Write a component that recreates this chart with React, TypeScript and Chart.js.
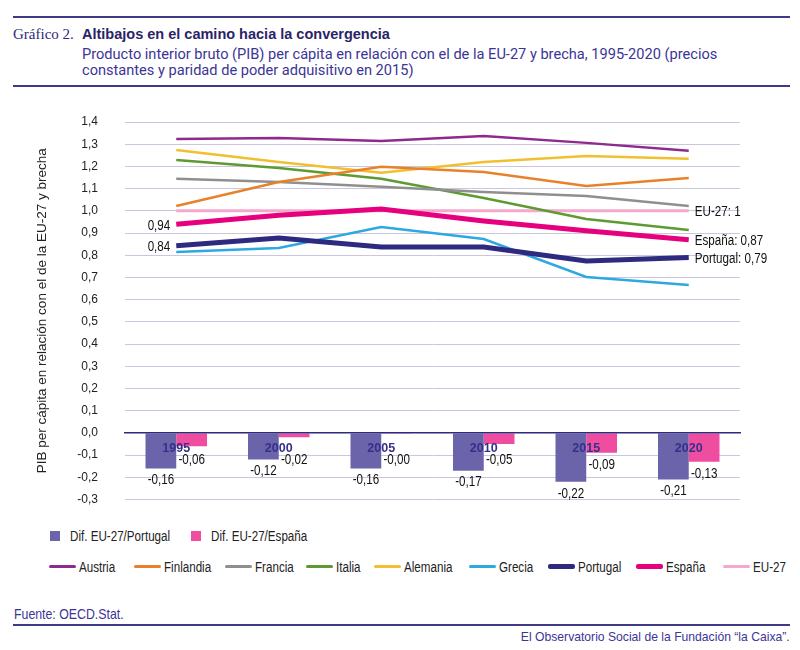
import React, { useEffect, useRef } from "react";
import { Chart, registerables } from "chart.js";

Chart.register(...registerables);

// ---------- data ----------
const years = ["1995", "2000", "2005", "2010", "2015", "2020"];
const difPortugal = [-0.16, -0.12, -0.16, -0.17, -0.22, -0.21];
const difEspana = [-0.06, -0.02, -0.002, -0.05, -0.09, -0.13];
const austria = [1.324, 1.328, 1.315, 1.337, 1.306, 1.27];
const finlandia = [1.022, 1.13, 1.198, 1.175, 1.112, 1.148];
const francia = [1.144, 1.13, 1.108, 1.085, 1.067, 1.022];
const italia = [1.229, 1.193, 1.144, 1.058, 0.963, 0.914];
const alemania = [1.274, 1.22, 1.171, 1.22, 1.247, 1.234];
const grecia = [0.815, 0.833, 0.927, 0.873, 0.702, 0.666];
const portugal = [0.843, 0.878, 0.837, 0.837, 0.774, 0.79];
const espana = [0.94, 0.98, 1.008, 0.954, 0.91, 0.87];
const eu27 = [1, 1, 1, 1, 1, 1];
const yMin = -0.3;
const yMax = 1.4;
const yStep = 0.1;

const SANS = "'Liberation Sans', Arial, sans-serif";
const NAVY = "#2e2a80";
const TEXT_BLUE = "#3b3596";
const RULE = "#3e3a86";
const NARROW_SCALE = 0.83;

const lineSeries = [
  { label: "Austria", data: austria, color: "#8e2a8e", width: 2.5 },
  { label: "Finlandia", data: finlandia, color: "#e8822a", width: 2.5 },
  { label: "Francia", data: francia, color: "#8f8f8f", width: 2.5 },
  { label: "Italia", data: italia, color: "#5e9a32", width: 2.5 },
  { label: "Alemania", data: alemania, color: "#f0c030", width: 2.5 },
  { label: "Grecia", data: grecia, color: "#2ea8e0", width: 2.5 },
  { label: "Portugal", data: portugal, color: NAVY, width: 5 },
  { label: "España", data: espana, color: "#e6007e", width: 5 },
  { label: "EU-27", data: eu27, color: "#f4a8cc", width: 3 },
];
const barSeries = [
  { label: "Dif. EU-27/Portugal", data: difPortugal, color: "#6c64aa" },
  { label: "Dif. EU-27/España", data: difEspana, color: "#ef4ea0" },
];

// legend placement (style only)
const barLegendX = [50, 191];
const lineLegendX = [49, 134, 225, 306, 374, 469, 548, 636, 723];

const fmt = (v: number, d: number) => {
  if (Math.abs(v) < 1e-9 && d === 1) return "0,0";
  return v.toFixed(d).replace(".", ",");
};
const fmtEnd = (v: number) => (Number.isInteger(v) ? String(v) : fmt(v, 2));

function narrowText(ctx: CanvasRenderingContext2D, text: string, x: number, y: number, align: "left" | "right" | "center") {
  ctx.save();
  ctx.translate(x, y);
  ctx.scale(NARROW_SCALE, 1);
  ctx.textAlign = align;
  ctx.fillText(text, 0, 0);
  ctx.restore();
}

const labelPlugin = {
  id: "labels",
  afterDatasetsDraw(chart: any) {
    const ctx = chart.ctx;
    const ys = chart.scales.y;
    const zero = ys.getPixelForValue(0);
    ctx.save();
    ctx.fillStyle = "#111";
    ctx.font = `14px ${SANS}`;
    ctx.textBaseline = "middle";
    // bar labels
    barSeries.forEach((s, di) => {
      const meta = chart.getDatasetMeta(di);
      meta.data.forEach((el: any, i: number) => {
        const v = s.data[i];
        const end = ys.getPixelForValue(v);
        const ly = Math.max(end + 12, zero + 27);
        narrowText(ctx, fmt(v, 2), el.x, ly, "center");
      });
    });
    // line labels
    const idx = (name: string) => barSeries.length + lineSeries.findIndex((l) => l.label === name);
    ["España", "Portugal"].forEach((name) => {
      const meta = chart.getDatasetMeta(idx(name));
      const el = meta.data[0];
      const s = lineSeries.find((l) => l.label === name)!;
      narrowText(ctx, fmt(s.data[0], 2), el.x - 6, el.y + 1.5, "right");
    });
    ["EU-27", "España", "Portugal"].forEach((name) => {
      const meta = chart.getDatasetMeta(idx(name));
      const el = meta.data[meta.data.length - 1];
      const s = lineSeries.find((l) => l.label === name)!;
      narrowText(ctx, `${name}: ${fmtEnd(s.data[s.data.length - 1])}`, el.x + 6, el.y + 1.5, "left");
    });
    ctx.restore();
  },
};

function ChartBox() {
  const ref = useRef<HTMLCanvasElement | null>(null);
  useEffect(() => {
    if (!ref.current) return;
    const datasets: any[] = [
      ...barSeries.map((s) => ({
        type: "bar",
        label: s.label,
        data: s.data,
        backgroundColor: s.color,
        categoryPercentage: 0.6,
        barPercentage: 1.0,
        order: 20,
      })),
      ...lineSeries.map((s, i) => ({
        type: "line",
        label: s.label,
        data: s.data,
        borderColor: s.color,
        backgroundColor: s.color,
        borderWidth: s.width,
        pointRadius: 0,
        tension: 0,
        fill: false,
        order: s.width > 4 ? 1 : 5 + i,
      })),
    ];
    const chart = new Chart(ref.current, {
      type: "bar",
      data: { labels: years, datasets },
      plugins: [labelPlugin],
      options: {
        animation: false,
        responsive: true,
        maintainAspectRatio: false,
        layout: { padding: { top: 22, bottom: 20.5, left: 0, right: 60 } },
        plugins: { legend: { display: false }, tooltip: { enabled: false } },
        scales: {
          x: {
            position: { y: 0 } as any,
            offset: true,
            grid: { display: false, drawTicks: false },
            border: { display: true, color: NAVY, width: 1.5, z: 1 },
            ticks: {
              font: { family: SANS, size: 12.5, weight: "bold" },
              color: "#35308a",
              padding: 8,
              maxRotation: 0,
              z: 1,
            },
          },
          y: {
            min: yMin,
            max: yMax,
            afterFit: (s: any) => {
              s.width = 125;
            },
            ticks: {
              stepSize: yStep,
              font: { family: SANS, size: 12 },
              color: "#222",
              padding: 0,
              callback: (v: any) => fmt(Number(v), 1),
            },
            grid: {
              color: "#cac6e0",
              drawTicks: true,
              tickLength: 27,
              tickColor: "rgba(0,0,0,0)",
              lineWidth: 1,
            },
            border: { display: false },
            title: {
              display: true,
              text: "PIB per cápita en relación con el de la EU-27 y brecha",
              font: { family: SANS, size: 13.5 },
              color: "#222",
              padding: { top: 34, bottom: 0 },
            },
          },
        },
      } as any,
    });
    return () => chart.destroy();
  }, []);
  return (
    <div style={{ position: "absolute", left: 0, top: 100, width: 800, height: 420 }}>
      <canvas ref={ref} />
    </div>
  );
}

const narrowSpan = (scale: number, origin: string): React.CSSProperties => ({
  display: "inline-block",
  transform: `scaleX(${scale})`,
  transformOrigin: origin,
  whiteSpace: "nowrap",
});

export default function App() {
  const legendText: React.CSSProperties = {
    position: "absolute",
    fontFamily: SANS,
    fontSize: 14,
    color: "#222",
    lineHeight: "18px",
    ...narrowSpan(NARROW_SCALE, "left center"),
  };
  return (
    <div
      style={{
        position: "fixed",
        left: 0,
        top: 0,
        width: 800,
        height: 650,
        background: "#fff",
        overflow: "hidden",
      }}
    >
      <div style={{ position: "absolute", left: 13, top: 16, width: 777, height: 2, background: RULE }} />
      <div
        style={{
          position: "absolute",
          left: 13,
          top: 24,
          fontFamily: "'Liberation Serif', serif",
          fontSize: 15,
          color: "#2e2a78",
          lineHeight: "20px",
        }}
      >
        Gráfico 2.
      </div>
      <div
        style={{
          position: "absolute",
          left: 82,
          top: 24,
          fontFamily: SANS,
          fontWeight: 700,
          fontSize: 14.5,
          color: "#2a2466",
          lineHeight: "20px",
          whiteSpace: "nowrap",
        }}
      >
        Altibajos en el camino hacia la convergencia
      </div>
      <div
        style={{
          position: "absolute",
          left: 82,
          top: 46,
          fontFamily: "Roboto, sans-serif",
          fontSize: 14.6,
          color: TEXT_BLUE,
          lineHeight: "16px",
          whiteSpace: "nowrap",
        }}
      >
        Producto interior bruto (PIB) per cápita en relación con el de la EU-27 y brecha, 1995-2020 (precios
        <br />
        constantes y paridad de poder adquisitivo en 2015)
      </div>
      <div style={{ position: "absolute", left: 13, top: 85, width: 777, height: 2, background: RULE }} />

      <ChartBox />

      {/* legend row 1 */}
      {barSeries.map((s, i) => (
        <React.Fragment key={s.label}>
          <div
            style={{ position: "absolute", left: barLegendX[i], top: 531, width: 10, height: 10, background: s.color }}
          />
          <span style={{ ...legendText, left: barLegendX[i] + 20, top: 527 }}>{s.label}</span>
        </React.Fragment>
      ))}
      {/* legend row 2 */}
      {lineSeries.map((s, i) => {
        const h = s.width > 4 ? 5 : 3;
        return (
          <React.Fragment key={s.label}>
            <div
              style={{
                position: "absolute",
                left: lineLegendX[i],
                top: 566.5 - h / 2,
                width: 27,
                height: h,
                borderRadius: 2,
                background: s.color,
              }}
            />
            <span style={{ ...legendText, left: lineLegendX[i] + 30, top: 557.5 }}>{s.label}</span>
          </React.Fragment>
        );
      })}

      <span
        style={{
          position: "absolute",
          left: 14,
          top: 605,
          fontFamily: SANS,
          fontSize: 14.5,
          color: TEXT_BLUE,
          lineHeight: "18px",
          ...narrowSpan(0.85, "left center"),
        }}
      >
        Fuente: OECD.Stat.
      </span>
      <div style={{ position: "absolute", left: 13, top: 624, width: 777, height: 2, background: RULE }} />
      <span
        style={{
          position: "absolute",
          right: 10,
          top: 628,
          fontFamily: SANS,
          fontSize: 13.5,
          color: TEXT_BLUE,
          lineHeight: "18px",
          ...narrowSpan(0.9, "right center"),
        }}
      >
        El Observatorio Social de la Fundación “la Caixa”.
      </span>
    </div>
  );
}
